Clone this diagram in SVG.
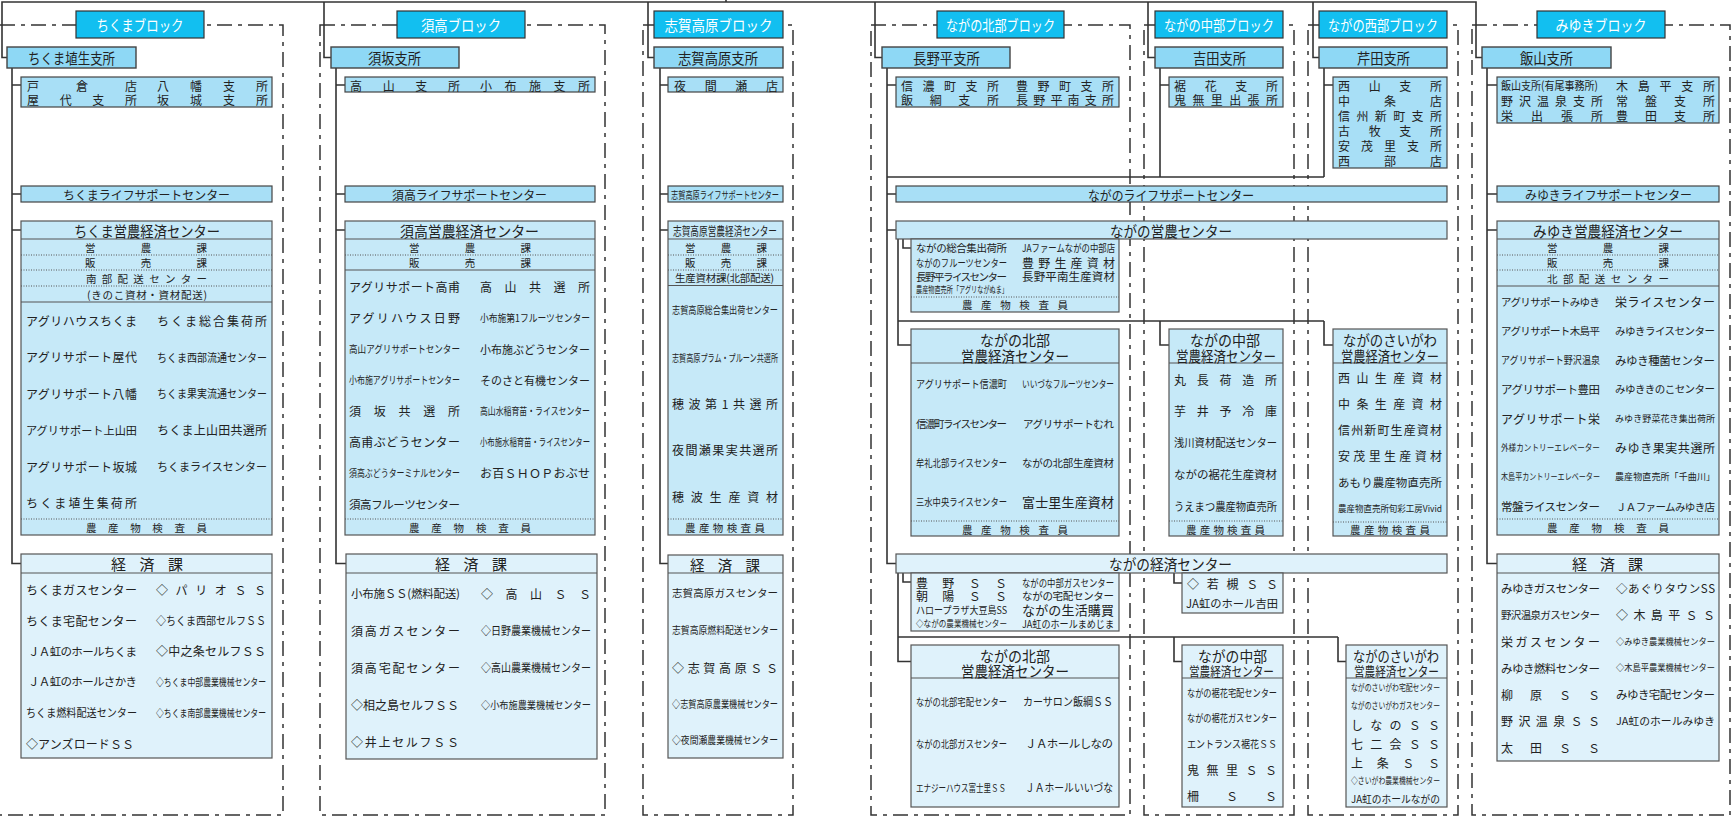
<svg xmlns="http://www.w3.org/2000/svg" width="1736" height="817" viewBox="0 0 1736 817">
<style>
text{font-family:"Noto Sans CJK JP","Noto Sans CJK SC","Noto Sans",sans-serif;fill:#222;dominant-baseline:central}
.lb{fill:#fff;font-size:15px}
.bl{fill:#12bff0;stroke:#333;stroke-width:1.2}
.sh{fill:#8ed8f5;stroke:#444;stroke-width:1.4}
.br{fill:#a8dff6;stroke:#444;stroke-width:1.2}
.ek{fill:#c6e9f8;stroke:#555;stroke-width:1.2}
.kz{fill:#dff2fb;stroke:#555;stroke-width:1.2}
.dl{fill:none;stroke:#333;stroke-width:1.5;stroke-dasharray:15 6 4 6}
.cn path{fill:none;stroke:#333;stroke-width:1.6}
.sl{fill:none;stroke:#555;stroke-width:1.2}
.dt{fill:none;stroke:#555;stroke-width:1;stroke-dasharray:1 1.5}
.f15{font-size:15px}.f14{font-size:14.5px}.f13{font-size:13px}.f12{font-size:12px}.f11{font-size:11.5px}.f10{font-size:10.5px}.f9{font-size:9px}
</style>
<rect width="1736" height="817" fill="#fff"/>
<g id="block-frames">
<path class="dl" d="M0,25 H283 V815 H0"/>
<rect class="dl" x="320" y="25" width="285" height="790"/>
<rect class="dl" x="643" y="25" width="150" height="790"/>
<rect class="dl" x="871" y="25" width="259" height="790"/>
<rect class="dl" x="1144" y="25" width="150" height="790"/>
<rect class="dl" x="1308" y="25" width="150" height="790"/>
<rect class="dl" x="1472" y="25" width="258" height="790"/>
</g>
<g id="connectors" class="cn">
<path d="M726,0 V2"/>
<path d="M7,57.5 H2 V2 H1476 V57.5 H1482"/>
<path d="M324,2 V57.5 H331"/>
<path d="M648,2 V57.5 H654"/>
<path d="M875,2 V57.5 H882"/>
<path d="M1148,2 V57.5 H1155"/>
<path d="M1313,2 V57.5 H1319"/>
<path d="M12,68 V563.5 H21 M12,85 H21 M12,194 H21 M12,230 H21"/>
<path d="M336,68 V563.5 H346 M336,85 H345 M336,194 H345 M336,230 H345"/>
<path d="M660,68 V563.5 H668 M660,85 H668 M660,194 H668 M660,230 H668"/>
<path d="M887,68 V563.5 H896 M887,85 H896 M887,194 H896 M887,230 H896"/>
<path d="M887,177 H1324 M1160,68 V177 M1324,68 V177 M1160,85 H1169 M1324,85 H1333"/>
<path d="M903,239 V248 H911 M898,239 V345 H911 M898,321 H1324 M1160,321 V345 H1169 M1324,321 V345 H1333"/>
<path d="M903,573 V582 H911 M898,573 V661.5 H911 M898,637 H1338 M1174,637 V661.5 H1182 M1338,637 V661.5 H1346 M1174,573 V583 H1182"/>
<path d="M1487,68 V563.5 H1497 M1487,85 H1497 M1487,194 H1497 M1487,230 H1497"/>
</g>

<g id="lbl-chikuma"><rect class="bl" x="76" y="11" width="128" height="27"/><text class="lb" x="96.5" y="24.5" textLength="87" lengthAdjust="spacingAndGlyphs">ちくまブロック</text></g>
<g id="lbl-suko"><rect class="bl" x="397" y="11" width="128" height="27"/><text class="lb" x="421" y="24.5" textLength="80" lengthAdjust="spacingAndGlyphs">須高ブロック</text></g>
<g id="lbl-shiga"><rect class="bl" x="654" y="11" width="129" height="27"/><text class="lb" x="664.5" y="24.5" textLength="108" lengthAdjust="spacingAndGlyphs">志賀高原ブロック</text></g>
<g id="lbl-hokubu"><rect class="bl" x="937" y="11" width="127" height="27"/><text class="lb" x="946" y="24.5" textLength="109" lengthAdjust="spacingAndGlyphs">ながの北部ブロック</text></g>
<g id="lbl-chubu"><rect class="bl" x="1155" y="11" width="128" height="27"/><text class="lb" x="1164" y="24.5" textLength="110" lengthAdjust="spacingAndGlyphs">ながの中部ブロック</text></g>
<g id="lbl-seibu"><rect class="bl" x="1319" y="11" width="128" height="27"/><text class="lb" x="1328" y="24.5" textLength="110" lengthAdjust="spacingAndGlyphs">ながの西部ブロック</text></g>
<g id="lbl-miyuki"><rect class="bl" x="1537" y="11" width="128" height="27"/><text class="lb" x="1555.5" y="24.5" textLength="91" lengthAdjust="spacingAndGlyphs">みゆきブロック</text></g>

<g id="n-hanishina"><rect class="sh" x="7" y="47" width="129" height="21"/><text class="f14" x="28" y="57.5" textLength="87" lengthAdjust="spacingAndGlyphs">ちくま埴生支所</text></g>
<g id="n-suzaka"><rect class="sh" x="331" y="47" width="128" height="21"/><text class="f14" x="368" y="57.5" textLength="53" lengthAdjust="spacingAndGlyphs">須坂支所</text></g>
<g id="n-shigakogen"><rect class="sh" x="654" y="47" width="129" height="21"/><text class="f14" x="678" y="57.5" textLength="80" lengthAdjust="spacingAndGlyphs">志賀高原支所</text></g>
<g id="n-naganodaira"><rect class="sh" x="882" y="47" width="128" height="21"/><text class="f14" x="913" y="57.5" textLength="67" lengthAdjust="spacingAndGlyphs">長野平支所</text></g>
<g id="n-yoshida"><rect class="sh" x="1155" y="47" width="128" height="21"/><text class="f14" x="1193" y="57.5" textLength="53" lengthAdjust="spacingAndGlyphs">吉田支所</text></g>
<g id="n-serita"><rect class="sh" x="1319" y="47" width="128" height="21"/><text class="f14" x="1357" y="57.5" textLength="53" lengthAdjust="spacingAndGlyphs">芹田支所</text></g>
<g id="n-iiyama"><rect class="sh" x="1482" y="47" width="129" height="21"/><text class="f14" x="1520" y="57.5" textLength="53" lengthAdjust="spacingAndGlyphs">飯山支所</text></g>

<g id="n-chikuma-br"><rect class="br" x="21" y="77" width="251" height="30"/>
<text class="f12" x="27" y="85" textLength="110">戸倉店</text><text class="f12" x="157" y="85" textLength="111">八幡支所</text>
<text class="f12" x="27" y="99" textLength="110">屋代支所</text><text class="f12" x="157" y="99" textLength="111">坂城支所</text></g>
<g id="n-suko-br"><rect class="br" x="345" y="77" width="250" height="15"/>
<text class="f12" x="350" y="85" textLength="110">高山支所</text><text class="f12" x="480" y="85" textLength="110">小布施支所</text></g>
<g id="n-shiga-br"><rect class="br" x="668" y="77" width="115" height="15"/>
<text class="f12" x="674" y="85" textLength="104">夜間瀬店</text></g>
<g id="n-hokubu-br"><rect class="br" x="896" y="77" width="223" height="30"/>
<text class="f12" x="901" y="85" textLength="98">信濃町支所</text><text class="f12" x="1016" y="85" textLength="98">豊野町支所</text>
<text class="f12" x="901" y="99" textLength="98">飯綱支所</text><text class="f12" x="1016" y="99" textLength="98">長野平南支所</text></g>
<g id="n-chubu-br"><rect class="br" x="1169" y="77" width="114" height="30"/>
<text class="f12" x="1174" y="85" textLength="104">裾花支所</text>
<text class="f12" x="1174" y="99" textLength="104">鬼無里出張所</text></g>
<g id="n-seibu-br"><rect class="br" x="1333" y="77" width="114" height="91"/>
<text class="f12" x="1338" y="85" textLength="104">西山支所</text>
<text class="f12" x="1338" y="100" textLength="104">中条店</text>
<text class="f12" x="1338" y="115" textLength="104">信州新町支所</text>
<text class="f12" x="1338" y="130" textLength="104">古牧支所</text>
<text class="f12" x="1338" y="145" textLength="104">安茂里支所</text>
<text class="f12" x="1338" y="160" textLength="104">西部店</text></g>
<g id="n-miyuki-br"><rect class="br" x="1497" y="77" width="222" height="46"/>
<text class="f11" x="1501" y="85" textLength="97" lengthAdjust="spacingAndGlyphs">飯山支所(有尾事務所)</text><text class="f12" x="1616" y="85" textLength="99">木島平支所</text>
<text class="f12" x="1501" y="100" textLength="102">野沢温泉支所</text><text class="f12" x="1616" y="100" textLength="99">常盤支所</text>
<text class="f12" x="1501" y="115" textLength="102">栄出張所</text><text class="f12" x="1616" y="115" textLength="99">豊田支所</text></g>

<g id="n-chikuma-life"><rect class="br" x="21" y="186" width="251" height="16"/><text class="f12" x="63" y="194" textLength="167" lengthAdjust="spacingAndGlyphs">ちくまライフサポートセンター</text></g>
<g id="n-suko-life"><rect class="br" x="345" y="186" width="250" height="16"/><text class="f12" x="392" y="194" textLength="155" lengthAdjust="spacingAndGlyphs">須高ライフサポートセンター</text></g>
<g id="n-shiga-life"><rect class="br" x="668" y="186" width="115" height="16"/><text class="f10" x="671" y="194" textLength="108" lengthAdjust="spacingAndGlyphs">志賀高原ライフサポートセンター</text></g>
<g id="n-nagano-life"><rect class="br" x="896" y="186" width="551" height="16"/><text class="f13" x="1088" y="194" textLength="166" lengthAdjust="spacingAndGlyphs">ながのライフサポートセンター</text></g>
<g id="n-miyuki-life"><rect class="br" x="1497" y="186" width="222" height="16"/><text class="f12" x="1525" y="194" textLength="167" lengthAdjust="spacingAndGlyphs">みゆきライフサポートセンター</text></g>

<g id="n-chikuma-einou">
<rect class="ek" x="21" y="221" width="251" height="314"/>
<path class="sl" d="M21,239H272M21,302H272"/>
<path class="dt" d="M21,255H272M21,270H272M21,286H272M21,519H272"/>
<text class="f15" x="74" y="230" textLength="146" lengthAdjust="spacingAndGlyphs">ちくま営農経済センター</text>
<text class="f10" x="85" y="247" textLength="122">営農課</text>
<text class="f10" x="85" y="262.5" textLength="122">販売課</text>
<text class="f10" x="86" y="278" textLength="121">南部配送センター</text>
<text class="f10" x="87" y="294" textLength="120">(きのこ資材・資材配送)</text>
<text class="f12" x="26" y="320" textLength="111">アグリハウスちくま</text>
<text class="f12" x="157" y="320" textLength="110">ちくま総合集荷所</text>
<text class="f12" x="26" y="356.5" textLength="111">アグリサポート屋代</text>
<text class="f11" x="157" y="356.5" textLength="110" lengthAdjust="spacingAndGlyphs">ちくま西部流通センター</text>
<text class="f12" x="26" y="393" textLength="111">アグリサポート八幡</text>
<text class="f11" x="157" y="393" textLength="110" lengthAdjust="spacingAndGlyphs">ちくま果実流通センター</text>
<text class="f11" x="26" y="429.5" textLength="111" lengthAdjust="spacingAndGlyphs">アグリサポート上山田</text>
<text class="f12" x="157" y="429.5" textLength="110">ちくま上山田共選所</text>
<text class="f12" x="26" y="466" textLength="111">アグリサポート坂城</text>
<text class="f11" x="157" y="466" textLength="110" lengthAdjust="spacingAndGlyphs">ちくまライスセンター</text>
<text class="f12" x="26" y="502.5" textLength="111">ちくま埴生集荷所</text>
<text class="f10" x="86" y="527" textLength="121">農産物検査員</text>
</g>
<g id="n-chikuma-keizai">
<rect class="kz" x="21" y="554" width="251" height="204"/>
<path class="sl" d="M21,573H272"/>
<text class="f15" x="111" y="563.5" textLength="72">経済課</text>
<text class="f12" x="26" y="589" textLength="111">ちくまガスセンター</text>
<text class="f12" x="156" y="589" textLength="110">◇パリオＳＳ</text>
<text class="f12" x="26" y="620" textLength="111">ちくま宅配センター</text>
<text class="f11" x="156" y="620" textLength="110" lengthAdjust="spacingAndGlyphs">◇ちくま西部セルフＳＳ</text>
<text class="f11" x="28" y="650.5" textLength="109">ＪＡ虹のホールちくま</text>
<text class="f12" x="156" y="650.5" textLength="110">◇中之条セルフＳＳ</text>
<text class="f11" x="28" y="681" textLength="109">ＪＡ虹のホールさかき</text>
<text class="f10" x="156" y="681" textLength="110" lengthAdjust="spacingAndGlyphs">◇ちくま中部農業機械センター</text>
<text class="f11" x="26" y="712" textLength="111" lengthAdjust="spacingAndGlyphs">ちくま燃料配送センター</text>
<text class="f10" x="156" y="712" textLength="110" lengthAdjust="spacingAndGlyphs">◇ちくま南部農業機械センター</text>
<text class="f12" x="26" y="743" textLength="108">◇アンズロードＳＳ</text>
</g>

<g id="n-suko-einou">
<rect class="ek" x="345" y="221" width="250" height="314"/>
<path class="sl" d="M345,239H595M345,270H595"/>
<path class="dt" d="M345,255H595M345,519H595"/>
<text class="f15" x="400" y="230" textLength="139" lengthAdjust="spacingAndGlyphs">須高営農経済センター</text>
<text class="f10" x="409" y="247" textLength="122">営農課</text>
<text class="f10" x="409" y="262.5" textLength="122">販売課</text>
<text class="f12" x="349" y="286.5" textLength="111">アグリサポート高甫</text>
<text class="f12" x="480" y="286.5" textLength="110">高山共選所</text>
<text class="f12" x="349" y="317.5" textLength="111">アグリハウス日野</text>
<text class="f10" x="480" y="317.5" textLength="110" lengthAdjust="spacingAndGlyphs">小布施第1フルーツセンター</text>
<text class="f10" x="349" y="348.5" textLength="111" lengthAdjust="spacingAndGlyphs">高山アグリサポートセンター</text>
<text class="f11" x="480" y="348.5" textLength="110" lengthAdjust="spacingAndGlyphs">小布施ぶどうセンター</text>
<text class="f10" x="349" y="379.5" textLength="111" lengthAdjust="spacingAndGlyphs">小布施アグリサポートセンター</text>
<text class="f11" x="480" y="379.5" textLength="110" lengthAdjust="spacingAndGlyphs">そのさと有機センター</text>
<text class="f12" x="349" y="410.5" textLength="111">須坂共選所</text>
<text class="f10" x="480" y="410.5" textLength="110" lengthAdjust="spacingAndGlyphs">高山水稲育苗・ライスセンター</text>
<text class="f12" x="349" y="441.5" textLength="111">高甫ぶどうセンター</text>
<text class="f10" x="480" y="441.5" textLength="110" lengthAdjust="spacingAndGlyphs">小布施水稲育苗・ライスセンター</text>
<text class="f10" x="349" y="472.5" textLength="111" lengthAdjust="spacingAndGlyphs">須高ぶどうターミナルセンター</text>
<text class="f12" x="480" y="472.5" textLength="110">お百ＳＨＯＰおぶせ</text>
<text class="f11" x="349" y="503.5" textLength="111">須高フルーツセンター</text>
<text class="f10" x="409" y="527" textLength="122">農産物検査員</text>
</g>
<g id="n-suko-keizai">
<rect class="kz" x="346" y="554" width="251" height="205"/>
<path class="sl" d="M346,573H597"/>
<text class="f15" x="435" y="563.5" textLength="72">経済課</text>
<text class="f11" x="351" y="593" textLength="109">小布施ＳＳ(燃料配送)</text>
<text class="f12" x="481" y="593" textLength="110">◇高山ＳＳ</text>
<text class="f12" x="351" y="630" textLength="109">須高ガスセンター</text>
<text class="f11" x="481" y="630" textLength="110" lengthAdjust="spacingAndGlyphs">◇日野農業機械センター</text>
<text class="f12" x="351" y="667" textLength="109">須高宅配センター</text>
<text class="f11" x="481" y="667" textLength="110" lengthAdjust="spacingAndGlyphs">◇高山農業機械センター</text>
<text class="f12" x="351" y="704" textLength="108">◇相之島セルフＳＳ</text>
<text class="f10" x="481" y="704" textLength="110" lengthAdjust="spacingAndGlyphs">◇小布施農業機械センター</text>
<text class="f12" x="351" y="741" textLength="108">◇井上セルフＳＳ</text>
</g>

<g id="n-shiga-einou">
<rect class="ek" x="668" y="221" width="115" height="314"/>
<path class="sl" d="M668,239H783M668,285.5H783"/>
<path class="dt" d="M668,255H783M668,270H783M668,519H783"/>
<text class="f12" x="673" y="230" textLength="104" lengthAdjust="spacingAndGlyphs">志賀高原営農経済センター</text>
<text class="f10" x="685" y="247" textLength="82">営農課</text>
<text class="f10" x="685" y="262.5" textLength="82">販売課</text>
<text class="f10" x="675" y="277.5" textLength="99">生産資材課(北部配送)</text>
<text class="f10" x="672" y="309" textLength="106" lengthAdjust="spacingAndGlyphs">志賀高原総合集出荷センター</text>
<text class="f10" x="672" y="357" textLength="106" lengthAdjust="spacingAndGlyphs">志賀高原プラム・プルーン共選所</text>
<text class="f12" x="672" y="403" textLength="106">穂波第1共選所</text>
<text class="f12" x="672" y="449" textLength="106">夜間瀬果実共選所</text>
<text class="f12" x="672" y="496" textLength="106">穂波生産資材</text>
<text class="f10" x="685" y="527" textLength="80">農産物検査員</text>
</g>
<g id="n-shiga-keizai">
<rect class="kz" x="668" y="555" width="115" height="203"/>
<path class="sl" d="M668,573H783"/>
<text class="f14" x="690" y="564" textLength="70">経済課</text>
<text class="f10" x="672" y="592" textLength="106">志賀高原ガスセンター</text>
<text class="f10" x="672" y="629" textLength="106" lengthAdjust="spacingAndGlyphs">志賀高原燃料配送センター</text>
<text class="f12" x="672" y="667" textLength="106">◇志賀高原ＳＳ</text>
<text class="f10" x="672" y="703" textLength="106" lengthAdjust="spacingAndGlyphs">◇志賀高原農業機械センター</text>
<text class="f10" x="672" y="739" textLength="106" lengthAdjust="spacingAndGlyphs">◇夜間瀬農業機械センター</text>
</g>

<g id="n-nagano-einou"><rect class="ek" x="896" y="221" width="551" height="18"/><text class="f15" x="1110" y="230" textLength="122" lengthAdjust="spacingAndGlyphs">ながの営農センター</text></g>
<g id="n-nagano-keizai"><rect class="kz" x="896" y="554" width="551" height="19"/><text class="f15" x="1109" y="563.5" textLength="123" lengthAdjust="spacingAndGlyphs">ながの経済センター</text></g>

<g id="n-nagano-einou-items">
<rect class="ek" x="911" y="239" width="208" height="73"/>
<path class="dt" d="M911,297H1119"/>
<text class="f10" x="916" y="247" textLength="91">ながの総合集出荷所</text>
<text class="f10" x="1022" y="247" textLength="93" lengthAdjust="spacingAndGlyphs">JAファームながの中部店</text>
<text class="f10" x="916" y="262" textLength="91" lengthAdjust="spacingAndGlyphs">ながのフルーツセンター</text>
<text class="f12" x="1022" y="262" textLength="93">豊野生産資材</text>
<text class="f10" x="916" y="276" textLength="91">長野平ライスセンター</text>
<text class="f11" x="1022" y="276" textLength="93">長野平南生産資材</text>
<text class="f9" x="916" y="289" textLength="92" lengthAdjust="spacingAndGlyphs">農産物直売所「アグリながぬま」</text>
<text class="f10" x="962" y="304.5" textLength="106">農産物検査員</text>
</g>

<g id="n-hokubu-einou">
<rect class="ek" x="911" y="329" width="208" height="207"/>
<path class="sl" d="M911,363H1119"/>
<path class="dt" d="M911,521H1119"/>
<text class="f15" x="980" y="339" textLength="70" lengthAdjust="spacingAndGlyphs">ながの北部</text>
<text class="f15" x="961" y="355" textLength="108" lengthAdjust="spacingAndGlyphs">営農経済センター</text>
<text class="f10" x="916" y="383" textLength="91" lengthAdjust="spacingAndGlyphs">アグリサポート信濃町</text>
<text class="f10" x="1022" y="383" textLength="92" lengthAdjust="spacingAndGlyphs">いいづなフルーツセンター</text>
<text class="f10" x="916" y="423" textLength="91">信濃町ライスセンター</text>
<text class="f10" x="1023" y="423" textLength="91">アグリサポートむれ</text>
<text class="f10" x="916" y="462" textLength="91" lengthAdjust="spacingAndGlyphs">牟礼北部ライスセンター</text>
<text class="f10" x="1022" y="462" textLength="92">ながの北部生産資材</text>
<text class="f10" x="916" y="501" textLength="91" lengthAdjust="spacingAndGlyphs">三水中央ライスセンター</text>
<text class="f13" x="1022" y="501" textLength="92">富士里生産資材</text>
<text class="f10" x="962" y="529" textLength="106">農産物検査員</text>
</g>

<g id="n-nagano-keizai-items">
<rect class="kz" x="911" y="573" width="208" height="58"/>
<text class="f12" x="916" y="582" textLength="91">豊野ＳＳ</text>
<text class="f10" x="1022" y="582" textLength="92" lengthAdjust="spacingAndGlyphs">ながの中部ガスセンター</text>
<text class="f12" x="916" y="595.5" textLength="91">朝陽ＳＳ</text>
<text class="f10" x="1022" y="595.5" textLength="92">ながの宅配センター</text>
<text class="f10" x="916" y="609" textLength="91" lengthAdjust="spacingAndGlyphs">ハロープラザ大豆島SS</text>
<text class="f13" x="1022" y="609" textLength="92">ながの生活購買</text>
<text class="f9" x="916" y="623" textLength="91" lengthAdjust="spacingAndGlyphs">◇ながの農業機械センター</text>
<text class="f10" x="1022" y="623" textLength="92" lengthAdjust="spacingAndGlyphs">JA虹のホールまめじま</text>
</g>

<g id="n-hokubu-keizai">
<rect class="kz" x="911" y="645" width="208" height="162"/>
<path class="sl" d="M911,678H1119"/>
<text class="f15" x="980" y="655" textLength="70" lengthAdjust="spacingAndGlyphs">ながの北部</text>
<text class="f15" x="961" y="670" textLength="108" lengthAdjust="spacingAndGlyphs">営農経済センター</text>
<text class="f10" x="916" y="701" textLength="91" lengthAdjust="spacingAndGlyphs">ながの北部宅配センター</text>
<text class="f11" x="1023" y="701" textLength="90" lengthAdjust="spacingAndGlyphs">カーサロン飯綱ＳＳ</text>
<text class="f10" x="916" y="743" textLength="91" lengthAdjust="spacingAndGlyphs">ながの北部ガスセンター</text>
<text class="f11" x="1025" y="743" textLength="88">ＪＡホールしなの</text>
<text class="f10" x="916" y="787" textLength="90" lengthAdjust="spacingAndGlyphs">エナジーハウス富士里ＳＳ</text>
<text class="f11" x="1025" y="787" textLength="88" lengthAdjust="spacingAndGlyphs">ＪＡホールいいづな</text>
</g>

<g id="n-chubu-einou">
<rect class="ek" x="1169" y="329" width="114" height="207"/>
<path class="sl" d="M1169,363H1283"/>
<path class="dt" d="M1169,521H1283"/>
<text class="f15" x="1190" y="339" textLength="70" lengthAdjust="spacingAndGlyphs">ながの中部</text>
<text class="f14" x="1176" y="355" textLength="100" lengthAdjust="spacingAndGlyphs">営農経済センター</text>
<text class="f12" x="1174" y="379" textLength="103">丸長荷造所</text>
<text class="f12" x="1174" y="410.5" textLength="103">芋井予冷庫</text>
<text class="f11" x="1174" y="442" textLength="103" lengthAdjust="spacingAndGlyphs">浅川資材配送センター</text>
<text class="f11" x="1174" y="474" textLength="103">ながの裾花生産資材</text>
<text class="f11" x="1174" y="506" textLength="103" lengthAdjust="spacingAndGlyphs">うえまつ農産物直売所</text>
<text class="f10" x="1186" y="529" textLength="79">農産物検査員</text>
</g>
<g id="n-chubu-keizai-items">
<rect class="kz" x="1182" y="573" width="101" height="40"/>
<text class="f12" x="1187" y="583" textLength="91">◇若槻ＳＳ</text>
<text class="f11" x="1186" y="603" textLength="92" lengthAdjust="spacingAndGlyphs">JA虹のホール吉田</text>
</g>
<g id="n-chubu-keizai">
<rect class="kz" x="1182" y="645" width="101" height="162"/>
<path class="sl" d="M1182,678H1283"/>
<text class="f15" x="1198" y="655" textLength="69" lengthAdjust="spacingAndGlyphs">ながの中部</text>
<text class="f13" x="1189" y="670" textLength="85" lengthAdjust="spacingAndGlyphs">営農経済センター</text>
<text class="f10" x="1187" y="692" textLength="90" lengthAdjust="spacingAndGlyphs">ながの裾花宅配センター</text>
<text class="f10" x="1187" y="717.5" textLength="90" lengthAdjust="spacingAndGlyphs">ながの裾花ガスセンター</text>
<text class="f10" x="1187" y="743" textLength="90" lengthAdjust="spacingAndGlyphs">エントランス裾花ＳＳ</text>
<text class="f12" x="1187" y="769" textLength="90">鬼無里ＳＳ</text>
<text class="f12" x="1187" y="795.5" textLength="90">柵ＳＳ</text>
</g>

<g id="n-saigawa-einou">
<rect class="ek" x="1333" y="329" width="114" height="207"/>
<path class="sl" d="M1333,363H1447"/>
<path class="dt" d="M1333,522H1447"/>
<text class="f14" x="1343" y="339" textLength="94" lengthAdjust="spacingAndGlyphs">ながのさいがわ</text>
<text class="f14" x="1341" y="355" textLength="98" lengthAdjust="spacingAndGlyphs">営農経済センター</text>
<text class="f12" x="1338" y="377" textLength="104">西山生産資材</text>
<text class="f12" x="1338" y="403" textLength="104">中条生産資材</text>
<text class="f12" x="1338" y="429" textLength="104">信州新町生産資材</text>
<text class="f12" x="1338" y="455.5" textLength="104">安茂里生産資材</text>
<text class="f11" x="1338" y="482" textLength="104">あもり農産物直売所</text>
<text class="f9" x="1338" y="508" textLength="104" lengthAdjust="spacingAndGlyphs">農産物直売所旬彩工房Vivid</text>
<text class="f10" x="1350" y="529" textLength="80">農産物検査員</text>
</g>
<g id="n-saigawa-keizai">
<rect class="kz" x="1346" y="645" width="101" height="162"/>
<path class="sl" d="M1346,678H1447"/>
<text class="f14" x="1353" y="655" textLength="86" lengthAdjust="spacingAndGlyphs">ながのさいがわ</text>
<text class="f13" x="1354" y="670" textLength="85" lengthAdjust="spacingAndGlyphs">営農経済センター</text>
<text class="f9" x="1351" y="687" textLength="89" lengthAdjust="spacingAndGlyphs">ながのさいがわ宅配センター</text>
<text class="f9" x="1351" y="705.5" textLength="89" lengthAdjust="spacingAndGlyphs">ながのさいがわガスセンター</text>
<text class="f12" x="1351" y="724" textLength="89">しなのＳＳ</text>
<text class="f12" x="1351" y="743" textLength="89">七二会ＳＳ</text>
<text class="f12" x="1351" y="762" textLength="89">上条ＳＳ</text>
<text class="f9" x="1351" y="780" textLength="89" lengthAdjust="spacingAndGlyphs">◇さいがわ農業機械センター</text>
<text class="f10" x="1351" y="798" textLength="89" lengthAdjust="spacingAndGlyphs">JA虹のホールながの</text>
</g>

<g id="n-miyuki-einou">
<rect class="ek" x="1497" y="221" width="222" height="314"/>
<path class="sl" d="M1497,239H1719M1497,286H1719"/>
<path class="dt" d="M1497,255H1719M1497,270H1719M1497,519H1719"/>
<text class="f15" x="1533" y="230" textLength="150" lengthAdjust="spacingAndGlyphs">みゆき営農経済センター</text>
<text class="f10" x="1547" y="247" textLength="122">営農課</text>
<text class="f10" x="1547" y="262.5" textLength="122">販売課</text>
<text class="f10" x="1547" y="278" textLength="122">北部配送センター</text>
<text class="f10" x="1501" y="301" textLength="99">アグリサポートみゆき</text>
<text class="f12" x="1615" y="301" textLength="100">栄ライスセンター</text>
<text class="f10" x="1501" y="330.3" textLength="99">アグリサポート木島平</text>
<text class="f10" x="1615" y="330.3" textLength="100">みゆきライスセンター</text>
<text class="f10" x="1501" y="359.6" textLength="99" lengthAdjust="spacingAndGlyphs">アグリサポート野沢温泉</text>
<text class="f11" x="1615" y="359.6" textLength="100">みゆき種菌センター</text>
<text class="f11" x="1501" y="388.9" textLength="99">アグリサポート豊田</text>
<text class="f10" x="1615" y="388.9" textLength="100">みゆききのこセンター</text>
<text class="f12" x="1501" y="418.2" textLength="99">アグリサポート栄</text>
<text class="f9" x="1615" y="418.2" textLength="100">みゆき野菜花き集出荷所</text>
<text class="f9" x="1501" y="447.5" textLength="99" lengthAdjust="spacingAndGlyphs">外様カントリーエレベーター</text>
<text class="f12" x="1615" y="447.5" textLength="100">みゆき果実共選所</text>
<text class="f9" x="1501" y="476.8" textLength="99" lengthAdjust="spacingAndGlyphs">木島平カントリーエレベーター</text>
<text class="f9" x="1615" y="476.8" textLength="100">農産物直売所「千曲川」</text>
<text class="f11" x="1501" y="506" textLength="99">常盤ライスセンター</text>
<text class="f10" x="1616" y="506" textLength="99">ＪＡファームみゆき店</text>
<text class="f10" x="1547" y="527" textLength="122">農産物検査員</text>
</g>
<g id="n-miyuki-keizai">
<rect class="kz" x="1497" y="554" width="222" height="207"/>
<path class="sl" d="M1497,573H1719"/>
<text class="f15" x="1572" y="563.5" textLength="71">経済課</text>
<text class="f11" x="1501" y="588" textLength="99">みゆきガスセンター</text>
<text class="f11" x="1616" y="588" textLength="99">◇あぐりタウンSS</text>
<text class="f10" x="1501" y="614.5" textLength="99">野沢温泉ガスセンター</text>
<text class="f12" x="1616" y="614.5" textLength="99">◇木島平ＳＳ</text>
<text class="f12" x="1501" y="641" textLength="99">栄ガスセンター</text>
<text class="f9" x="1616" y="641" textLength="99" lengthAdjust="spacingAndGlyphs">◇みゆき農業機械センター</text>
<text class="f11" x="1501" y="667.5" textLength="99">みゆき燃料センター</text>
<text class="f9" x="1616" y="667.5" textLength="99" lengthAdjust="spacingAndGlyphs">◇木島平農業機械センター</text>
<text class="f12" x="1501" y="694" textLength="99">柳原ＳＳ</text>
<text class="f11" x="1616" y="694" textLength="99">みゆき宅配センター</text>
<text class="f12" x="1501" y="720.5" textLength="99">野沢温泉ＳＳ</text>
<text class="f10" x="1616" y="720.5" textLength="99" lengthAdjust="spacingAndGlyphs">JA虹のホールみゆき</text>
<text class="f12" x="1501" y="747" textLength="99">太田ＳＳ</text>
</g>
</svg>
